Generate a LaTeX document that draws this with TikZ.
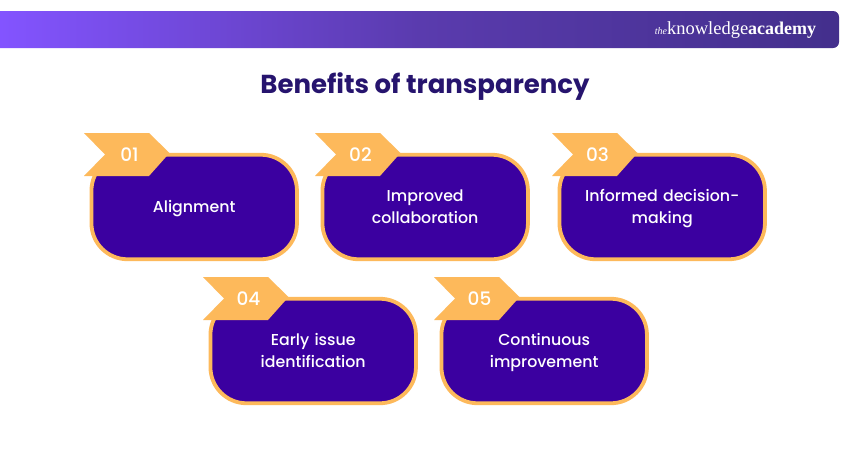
\documentclass[tikz,border=0pt]{standalone}
\usepackage{fontspec}
\setmainfont{Poppins}
\newfontfamily\medfont{Poppins Medium}
\newfontfamily\logofont{Liberation Serif}
\definecolor{cardfill}{HTML}{3B00A0}
\definecolor{cardedge}{HTML}{FDB95B}
\definecolor{titlecol}{HTML}{26146E}
\definecolor{barL}{HTML}{8354FF}
\definecolor{barM}{HTML}{5A3BAE}
\definecolor{barR}{HTML}{432F8C}
\tikzset{
  card/.style={draw=cardedge,fill=cardfill,line width=3.8pt,rounded corners=36pt,minimum width=205.5pt,minimum height=104.5pt,inner sep=0pt},
  cardtext/.style={font=\medfont\fontsize{15.8}{22}\selectfont,text=white,align=center,text width=175pt,inner sep=0pt},
  tag/.style={fill=cardedge},
  num/.style={font=\medfont\fontsize{18.5}{20}\selectfont,text=white,inner sep=0pt,anchor=center},
}
\newcommand{\cardat}[5]{%
  \node[card] (c#1) at (#2+104.2,#3+54) {};
  \node[cardtext] (t#1) at (#2+104.2,#3+54.8) {\strut #4\strut};
  \fill[tag] (#2-6,#3-20) -- (#2+59,#3-20) -- (#2+79.5,#3) -- (#2+59,#3+23) -- (#2-6,#3+23) -- (#2+15,#3+1.5) -- cycle;
  \node[num] (n#1) at (#2+39.5,#3+1.5) {#5};
}
\begin{document}
\begin{tikzpicture}[x=1pt,y=-1pt]
\useasboundingbox (0,0) rectangle (850,450);
\fill[white] (0,0) rectangle (850,450);
\begin{scope}
\path[clip,rounded corners=6pt] (-20,11) -- (839,11) -- (839,48) -- (-20,48) -- cycle;
\shade[left color=barL,right color=barR,middle color=barM,shading=axis,shading angle=90] (0,11) rectangle (839,48);
\end{scope}
\node[inner sep=0pt,text=white,anchor=center] (logo) at (735.5,30) {\logofont{\fontsize{10}{10}\selectfont\itshape the}{\fontsize{18.5}{18}\selectfont knowledge}{\fontsize{18}{18}\selectfont\bfseries academy}};
\node[inner sep=0pt,text=titlecol,font=\fontsize{26}{30}\selectfont\bfseries] (title) at (425,86.6) {Benefits of transparency};
\cardat{1}{90}{153}{Alignment}{01}
\cardat{2}{321}{153}{Improved\\collaboration}{02}
\cardat{3}{558}{153}{Informed decision-\\making}{03}
\cardat{4}{209}{297}{Early issue\\identification}{04}
\cardat{5}{440}{297}{Continuous\\improvement}{05}
\end{tikzpicture}
\end{document}
